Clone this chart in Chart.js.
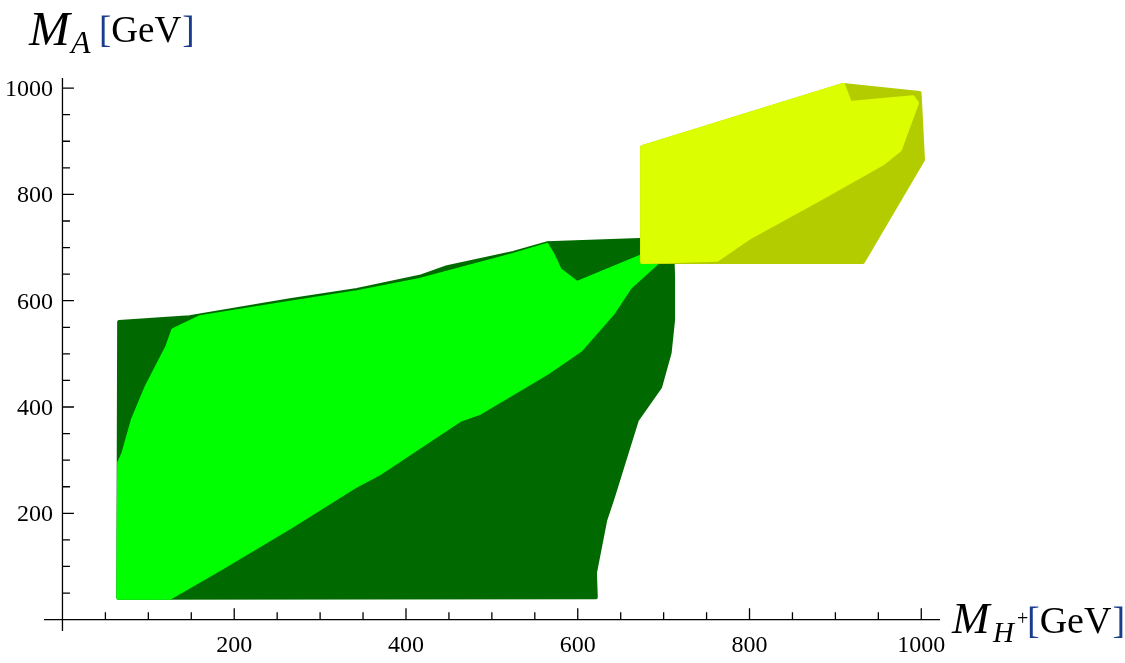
<!DOCTYPE html>
<html>
<head>
<meta charset="utf-8">
<script src="https://cdn.jsdelivr.net/npm/chart.js@4.4.0/dist/chart.umd.min.js"></script>
<style>
    html, body { margin: 0; padding: 0; background: #fff; }
    #wrap { width: 1125px; height: 663px; }
</style>
</head>
<body>
<div id="wrap"><canvas id="massChart" width="1125" height="663"></canvas></div>
<script>
// region outlines (GeV)
const darkGreenX = [66, 148, 265, 343, 416, 448, 525, 564, 672, 702, 710, 711, 711, 707, 696, 669, 657, 641, 632, 620, 621, 65];
const darkGreenY = [560, 569, 601, 620, 645, 663, 690, 708, 714, 710, 695, 645, 564, 502, 438, 376, 314, 231, 187, 88, 42, 41];

const lightGreenX = [66, 71, 82, 98, 114, 122, 129, 160, 265, 343, 416, 525, 564, 571, 579, 599, 672, 692, 692, 661, 641, 603, 564, 486, 463, 370, 343, 265, 187, 125, 65];
const lightGreenY = [295, 313, 376, 438, 488, 513, 545, 569, 596, 616, 639, 686, 705, 686, 658, 633, 682, 680, 671, 626, 577, 507, 464, 389, 376, 276, 253, 174, 99, 41, 41];

const oliveX = [675, 909, 998, 1002, 932, 675];
const oliveY = [889, 1006, 991, 865, 673, 673];

const yellowX = [675, 909, 917, 990, 995, 975, 956, 879, 801, 762, 675];
const yellowY = [889, 1006, 972, 983, 972, 884, 859, 789, 720, 677, 673];

const majorTicks = [200, 400, 600, 800, 1000];
const minorStep = 50;

const regionColors = ['#006a00', '#00ff00', '#b3cc00', '#dbff00'];

function toPoints(xs, ys) {
    return xs.map((x, i) => ({ x: x, y: ys[i] }));
}

// fills each dataset as a closed polygon, using the pixel positions the chart computed
const polygonFill = {
    id: 'polygonFill',
    beforeDatasetsDraw(chart) {
        const ctx = chart.ctx;
        chart.data.datasets.forEach((ds, i) => {
            const pts = chart.getDatasetMeta(i).data;
            ctx.save();
            ctx.beginPath();
            pts.forEach((p, k) => {
                if (k === 0) ctx.moveTo(p.x, p.y);
                else ctx.lineTo(p.x, p.y);
            });
            ctx.closePath();
            ctx.fillStyle = ds.backgroundColor;
            ctx.strokeStyle = ds.backgroundColor;
            ctx.lineWidth = 4;
            ctx.lineJoin = 'round';
            ctx.fill();
            ctx.stroke();
            ctx.restore();
        });
    }
};

// writes "[GeV]" with blue brackets, starting at x
function unitLabel(ctx, x, y, size) {
    ctx.font = size + 'px "Liberation Serif", "DejaVu Serif", serif';
    ctx.fillStyle = '#1a3c8c';
    ctx.fillText('[', x, y);
    x += ctx.measureText('[').width;
    ctx.fillStyle = '#000';
    ctx.fillText('GeV', x, y);
    x += ctx.measureText('GeV').width + 1;
    ctx.fillStyle = '#1a3c8c';
    ctx.fillText(']', x, y);
    ctx.fillStyle = '#000';
}

// mathematica style axes crossing at the origin, ticks pointing inward
const frameAxes = {
    id: 'frameAxes',
    afterDatasetsDraw(chart) {
        const ctx = chart.ctx;
        const xs = chart.scales.x, ys = chart.scales.y;
        const area = chart.chartArea;
        const x0 = xs.getPixelForValue(0);
        const y0 = ys.getPixelForValue(0);

        ctx.save();
        ctx.strokeStyle = '#000';
        ctx.lineWidth = 1.3;
        ctx.beginPath();
        ctx.moveTo(area.left, y0);
        ctx.lineTo(area.right, y0);
        ctx.moveTo(x0, area.top);
        ctx.lineTo(x0, area.bottom);

        for (let v = minorStep; v <= 1000; v += minorStep) {
            const len = majorTicks.includes(v) ? 11.5 : 7.5;
            const px = xs.getPixelForValue(v);
            ctx.moveTo(px, y0);
            ctx.lineTo(px, y0 - len);
            const py = ys.getPixelForValue(v);
            ctx.moveTo(x0, py);
            ctx.lineTo(x0 + len, py);
        }
        ctx.stroke();

        ctx.fillStyle = '#000';
        ctx.font = '24px "Liberation Serif", "DejaVu Serif", serif';
        ctx.textBaseline = 'alphabetic';
        majorTicks.forEach(v => {
            ctx.textAlign = 'center';
            ctx.fillText(String(v), xs.getPixelForValue(v), 652);
            ctx.textAlign = 'right';
            ctx.fillText(String(v), 53, ys.getPixelForValue(v) + 8);
        });

        // axis titles
        const serif = '"Liberation Serif", "DejaVu Serif", serif';
        ctx.textAlign = 'left';

        // y title: M_A [GeV]
        ctx.font = 'italic 49px ' + serif;
        ctx.fillText('M', 29, 45);
        ctx.font = 'italic 32px ' + serif;
        ctx.fillText('A', 71, 53);
        unitLabel(ctx, 99, 42, 37);

        // x title: M_{H+} [GeV]
        ctx.font = 'italic 45px ' + serif;
        ctx.fillText('M', 952, 633);
        ctx.font = 'italic 29px ' + serif;
        ctx.fillText('H', 993, 642);
        ctx.font = '20px ' + serif;
        ctx.fillText('+', 1017, 625);
        unitLabel(ctx, 1027, 633, 38);
        ctx.restore();
    }
};

const regions = [
    [darkGreenX, darkGreenY],
    [lightGreenX, lightGreenY],
    [oliveX, oliveY],
    [yellowX, yellowY]
];

const ctx = document.getElementById('massChart').getContext('2d');

new Chart(ctx, {
    type: 'scatter',
    data: {
        datasets: regions.map((r, i) => ({
            data: toPoints(r[0], r[1]),
            backgroundColor: regionColors[i],
            pointRadius: 0,
            showLine: false
        }))
    },
    options: {
        responsive: false,
        animation: false,
        layout: {
            padding: { left: 44, right: 185, top: 78, bottom: 32 }
        },
        scales: {
            x: { type: 'linear', min: -21.5, max: 1021.8, display: false },
            y: { type: 'linear', min: -21.4, max: 1019, display: false }
        },
        plugins: {
            legend: { display: false },
            tooltip: { enabled: false }
        }
    },
    plugins: [polygonFill, frameAxes]
});
</script>
</body>
</html>
